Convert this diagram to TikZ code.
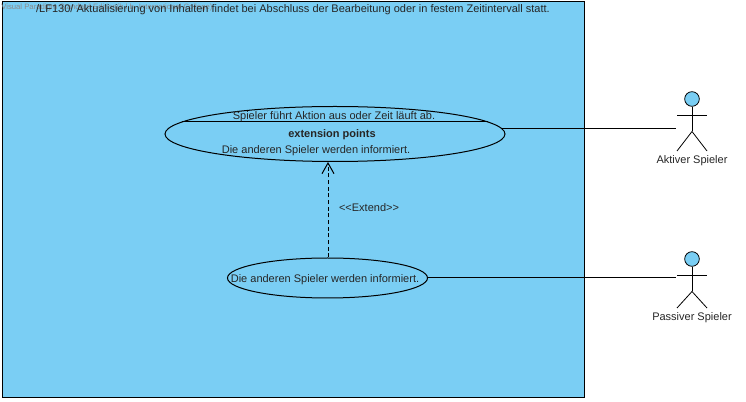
\documentclass[tikz,border=0pt]{standalone}
\usepackage{fontspec}
\setmainfont{Liberation Sans}
\usetikzlibrary{shapes.geometric}
\usetikzlibrary{arrows.meta}
\definecolor{umlblue}{HTML}{7ACEF4}
\tikzset{
    label text/.style={text=black!85,font=\fontsize{8.25pt}{10pt}\selectfont,inner sep=0pt},
    usecase/.style={draw,ellipse,inner sep=0pt,line width=0.75pt},
    actor head/.style={draw,circle,fill=umlblue,minimum size=11pt,inner sep=0pt,line width=0.6pt},
    actor line/.style={line width=0.6pt},
    extend line/.style={densely dashed,line width=0.75pt,-{Straight Barb[length=8pt,width=9pt]}}
}
\begin{document}
\begin{tikzpicture}[x=0.75pt,y=-0.75pt]
            \useasboundingbox (0,0) rectangle (746,402);
            \fill[white] (0,0) rectangle (746,402);
            \node[draw,line width=0.75pt,fill=umlblue,minimum width=436.5pt,minimum height=297pt,inner sep=0pt] (system) at (293,200) {};
            \node[label text,anchor=west,text=black!45,font=\fontsize{5.8pt}{7pt}\selectfont] (watermark) at (1,7.5) {Visual Paradigm Standard Edition(h.l.b. International College)};
            \node[label text] (requirement) at (293,9.5) {/LF130/ Aktualisierung von Inhalten findet bei Abschluss der Bearbeitung oder in festem Zeitintervall statt.};
            \node[usecase,minimum width=255pt,minimum height=41.25pt] (action) at (335,134) {};
            \node[usecase,minimum width=150pt,minimum height=30pt] (inform) at (327.5,278) {};
            \coordinate (chordl) at (182,122);
            \coordinate (chordr) at (488,122);
            \draw[line width=0.75pt] (chordl) -- (chordr);
            \node[label text] (actiontitle) at (334,116.5) {Spieler führt Aktion aus oder Zeit läuft ab.};
            \node[label text,font=\fontsize{8.25pt}{10pt}\bfseries] (extpoints) at (332,135) {extension points};
            \node[label text] (extpoint) at (316,150.5) {Die anderen Spieler werden informiert.};
            \node[label text] (informtitle) at (325,279.5) {Die anderen Spieler werden informiert.};
            \draw[extend line] (inform.north -| 328,0) -- (action.south -| 328,0);
            \node[label text] (extendlabel) at (369,208) {<{}<Extend>{}>};
            % active player
            \node[actor head] (headA) at (692,99) {};
            \coordinate (armAl) at (677,115);
            \coordinate (armAr) at (707,115);
            \coordinate (hipA) at (692,131.5);
            \coordinate (footAl) at (677,151);
            \coordinate (footAr) at (707,151);
            \coordinate (handA) at (676,128);
            \draw[actor line] (headA) -- (hipA);
            \draw[actor line] (armAl) -- (armAr);
            \draw[actor line] (footAl) -- (hipA) -- (footAr);
            \node[label text] (nameA) at (692,160.5) {Aktiver Spieler};
            % passive player
            \node[actor head] (headB) at (692,259) {};
            \coordinate (armBl) at (677,275);
            \coordinate (armBr) at (707,275);
            \coordinate (hipB) at (692,291.5);
            \coordinate (footBl) at (677,308);
            \coordinate (footBr) at (707,308);
            \coordinate (handB) at (676,278);
            \draw[actor line] (headB) -- (hipB);
            \draw[actor line] (armBl) -- (armBr);
            \draw[actor line] (footBl) -- (hipB) -- (footBr);
            \node[label text] (nameB) at (692,317.5) {Passiver Spieler};
            \draw[line width=0.75pt] (action.2) -- (action.2 -| handA);
            \draw[line width=0.75pt] (inform.east) -- (handB);
        \end{tikzpicture}
\end{document}
